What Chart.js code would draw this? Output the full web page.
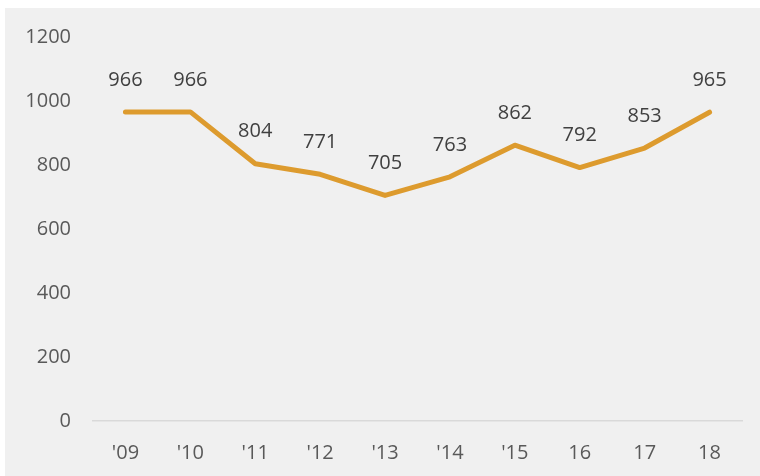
<!DOCTYPE html>
<html>
<head>
<meta charset="utf-8">
<script src="https://cdn.jsdelivr.net/npm/chart.js@4/dist/chart.umd.min.js"></script>
<style>
    html, body { margin: 0; padding: 0; background: #ffffff; }
    #marco {
        position: absolute;
        left: 5px;
        top: 8px;
        width: 755px;
        height: 468px;
        background: #f0f0f0;
    }
</style>
</head>
<body>
<div id="marco"><canvas id="lineaChart"></canvas></div>
<script>
// Datos del gráfico
const anios = ["'09", "'10", "'11", "'12", "'13", "'14", "'15", "16", "17", "18"];
const valores = [966, 966, 804, 771, 705, 763, 862, 792, 853, 965];
const ejeY = { min: 0, max: 1200, paso: 200 };

const fuente = "'Open Sans', 'Liberation Sans', sans-serif";

// Plugin sencillo para poner el valor encima de cada punto
const etiquetasValor = {
    id: 'etiquetasValor',
    afterDatasetsDraw(chart) {
        const ctx = chart.ctx;
        const meta = chart.getDatasetMeta(0);
        ctx.save();
        ctx.font = '20px ' + fuente;
        ctx.fillStyle = '#404040';
        ctx.textAlign = 'center';
        ctx.textBaseline = 'middle';
        meta.data.forEach((punto, i) => {
            ctx.fillText(String(valores[i]), punto.x, punto.y - 32);
        });
        ctx.restore();
    }
};

document.addEventListener('DOMContentLoaded', function () {
    const ctx = document.getElementById('lineaChart').getContext('2d');
    new Chart(ctx, {
        type: 'line',
        data: {
            labels: anios,
            datasets: [{
                data: valores,
                borderColor: '#dd9b2e',
                borderWidth: 5,
                borderCapStyle: 'round',
                borderJoinStyle: 'round',
                pointRadius: 0,
                tension: 0,
                fill: false
            }]
        },
        options: {
            responsive: true,
            maintainAspectRatio: false,
            animation: false,
            layout: {
                padding: { top: 29, right: 18, left: 0, bottom: 0 }
            },
            plugins: {
                legend: { display: false },
                tooltip: { enabled: false }
            },
            scales: {
                x: {
                    offset: true,
                    grid: { display: false },
                    border: { display: true, color: '#d9d9d9', width: 1.5 },
                    ticks: {
                        color: '#595959',
                        font: { family: fuente, size: 20 },
                        padding: 12,
                        maxRotation: 0
                    },
                    afterFit: (escala) => { escala.height = 55; }
                },
                y: {
                    min: ejeY.min,
                    max: ejeY.max,
                    // sin rejilla; la marca invisible solo separa las etiquetas del eje
                    grid: { display: false, drawTicks: true, tickLength: 20 },
                    border: { display: false },
                    ticks: {
                        stepSize: ejeY.paso,
                        color: '#595959',
                        font: { family: fuente, size: 20 },
                        padding: 2,
                        callback: (valor) => String(valor)
                    },
                    afterFit: (escala) => { escala.width = 88; }
                }
            }
        },
        plugins: [etiquetasValor]
    });
});
</script>
</body>
</html>
